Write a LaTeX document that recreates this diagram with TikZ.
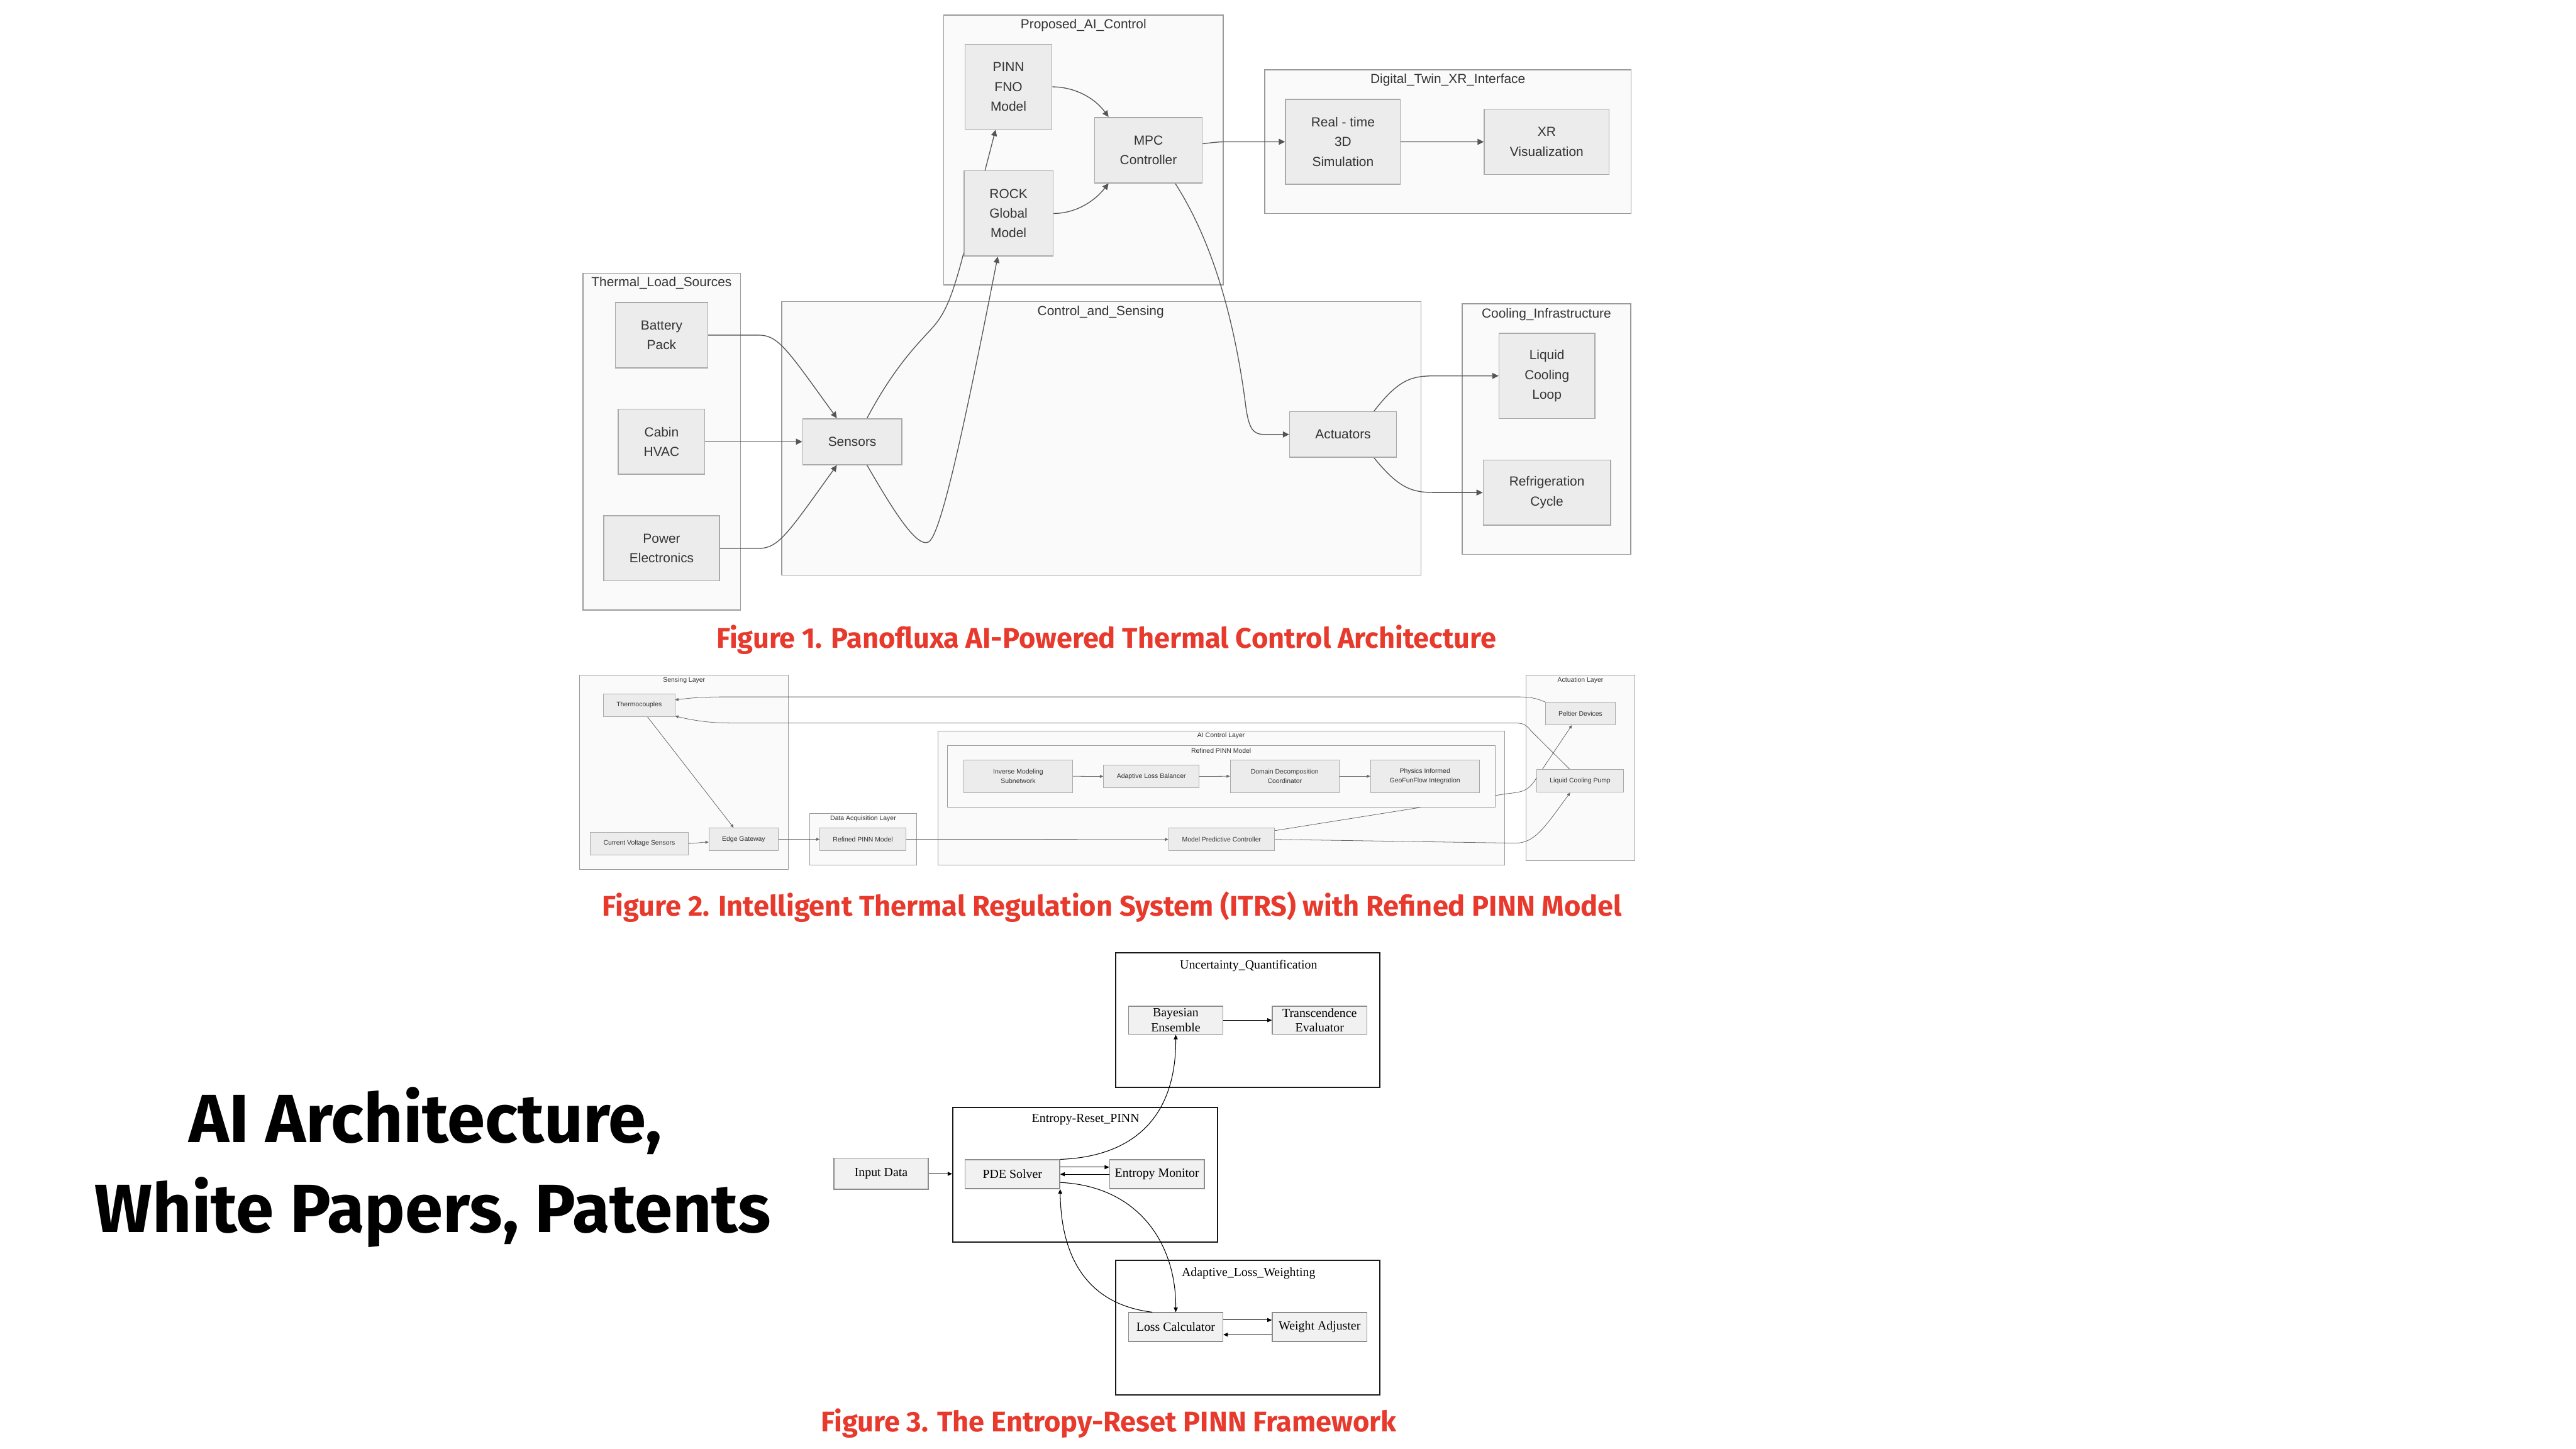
\documentclass[tikz,border=0pt]{standalone}
\usepackage{fontspec}
\usetikzlibrary{arrows.meta}
\newfontfamily\arialf{Liberation Sans}
\newfontfamily\timesf{Liberation Serif}
\newfontfamily\firaf{Fira Sans}
\definecolor{clufill}{HTML}{FAFAFA}
\definecolor{cluline}{HTML}{9A9A9A}
\definecolor{nodefill}{HTML}{ECECEC}
\definecolor{nodeline}{HTML}{A9A9A9}
\definecolor{edgecol}{HTML}{555555}
\definecolor{txtcol}{HTML}{333333}
\definecolor{capred}{HTML}{E8392D}
\definecolor{f3fill}{HTML}{F1F1F1}
\definecolor{f3line}{HTML}{8C8C8C}
\pgfdeclarelayer{bg}
\pgfdeclarelayer{edges}
\pgfdeclarelayer{mid}
\pgfsetlayers{bg,edges,mid,main}
\tikzset{
  clu1/.style={draw=cluline, fill=clufill, line width=0.6pt},
  lab1/.style={text=txtcol, inner sep=0pt, font=\arialf\fontsize{8}{12}\selectfont},
  n1/.style={draw=nodeline, fill=nodefill, line width=0.6pt, inner sep=0pt, align=center, text=txtcol, font=\arialf\fontsize{8}{12}\selectfont},
  e1/.style={draw=edgecol, line width=0.5pt, -{Triangle[length=3.8pt,width=3.6pt]}},
  lab2/.style={text=txtcol, inner sep=0pt, font=\arialf\fontsize{4}{6}\selectfont},
  n2/.style={draw=nodeline, fill=nodefill, line width=0.35pt, inner sep=0pt, align=center, text=txtcol, font=\arialf\fontsize{4}{6}\selectfont},
  e2/.style={draw=edgecol!90, line width=0.3pt, -{Triangle[length=2pt,width=1.8pt]}},
  clu3/.style={draw=black!90, fill=white, line width=0.8pt},
  lab3/.style={text=black, inner sep=0pt, font=\timesf\fontsize{7.6}{9.1}\selectfont},
  n3/.style={draw=f3line, fill=f3fill, line width=0.6pt, inner sep=0pt, align=center, text=black, font=\timesf\fontsize{7.6}{9.1}\selectfont},
  e3/.style={draw=black, line width=0.4pt, -{Triangle[length=2.8pt,width=2.4pt]}},
  capt/.style={text=capred, inner sep=0pt, font=\firaf\bfseries\fontsize{17.3}{20}\selectfont},
  ttl/.style={text=black, inner sep=0pt, font=\firaf\bfseries\fontsize{41.5}{48}\selectfont}
}
\begin{document}
\begin{tikzpicture}[x=1pt,y=-1pt]
\useasboundingbox (0,0) rectangle (1568,882);
\begin{pgfonlayer}{bg}
\fill[white] (0,0) rectangle (1568,882);
\end{pgfonlayer}

% ================= FIGURE 1 =================
\begin{pgfonlayer}{bg}
\draw[clu1] (354.8,166.4) rectangle (450.7,371.3);
\draw[clu1] (475.8,183.6) rectangle (865,350);
\draw[clu1] (574.4,9.3) rectangle (744.5,173.5);
\draw[clu1] (769.9,42.6) rectangle (992.8,130);
\draw[clu1] (890,185) rectangle (992.7,337.4);
\end{pgfonlayer}
\node[lab1] (tlsl) at (402.7,172.2) {Thermal\_Load\_Sources};
\node[lab1] (casl) at (670,190) {Control\_and\_Sensing};
\node[lab1] (pacl) at (659.5,15.3) {Proposed\_AI\_Control};
\node[lab1] (dtxl) at (881.3,48.7) {Digital\_Twin\_XR\_Interface};
\node[lab1] (cinl) at (941.3,191.3) {Cooling\_Infrastructure};

\node[n1, minimum width=56.2pt, minimum height=39.7pt] (bat) at (402.7,204) {Battery\\Pack};
\node[n1, minimum width=52.6pt, minimum height=39.7pt] (cab) at (402.7,268.85) {Cabin\\HVAC};
\node[n1, minimum width=70.3pt, minimum height=39.6pt] (pow) at (402.75,333.8) {Power\\Electronics};
\node[n1, minimum width=60.3pt, minimum height=28pt] (sen) at (518.75,268.85) {Sensors};
\node[n1, minimum width=65pt, minimum height=27.7pt] (act) at (817.5,264.45) {Actuators};
\node[n1, minimum width=58.2pt, minimum height=52pt] (lcl) at (941.6,228.8) {Liquid\\Cooling\\Loop};
\node[n1, minimum width=77.5pt, minimum height=39.6pt] (ref) at (941.55,299.8) {Refrigeration\\Cycle};
\node[n1, minimum width=52.9pt, minimum height=51.7pt] (pinn) at (613.85,52.85) {PINN\\FNO\\Model};
\node[n1, minimum width=54.2pt, minimum height=51.9pt] (rock) at (613.9,129.95) {ROCK\\Global\\Model};
\node[n1, minimum width=65.6pt, minimum height=39.8pt] (mpc) at (699,91.4) {MPC\\Controller};
\node[n1, minimum width=69.9pt, minimum height=51.8pt] (rts) at (817.45,86.3) {Real - time\\3D\\Simulation};
\node[n1, minimum width=75.9pt, minimum height=39.7pt] (xr) at (941.45,86.35) {XR\\Visualization};

\begin{pgfonlayer}{edges}
\draw[e1] (bat.east) -- (462,204) .. controls (474,204) and (480,214) .. ([xshift=-9.35pt]sen.north);
\draw[e1] (cab.east) -- (sen.west);
\draw[e1] (pow.east) -- (462,333.8) .. controls (474,333.8) and (480,324) .. ([xshift=-9.35pt]sen.south);
\draw[e1] ([xshift=9pt]sen.north) .. controls (545,222) and (560,208) .. (568,199) .. controls (576,190) and (580,178) .. (585,160) -- ([xshift=-7.85pt]pinn.south);
\draw[e1] ([xshift=9pt]sen.south) .. controls (545,313) and (558,333) .. (565,330) .. controls (572,327) and (585,270) .. ([xshift=-6.6pt]rock.south);
\draw[e1] (pinn.east) .. controls (652,52.85) and (665,58) .. ([xshift=-24.2pt]mpc.north);
\draw[e1] (rock.east) .. controls (653,130) and (665,124) .. ([xshift=-24.2pt]mpc.south);
\draw[e1] ([yshift=3.9pt]mpc.east) .. controls (742,86.3) .. (752,86.3) -- (rts.west);
\draw[e1] (rts.east) -- (xr.west);
\draw[e1] ([xshift=16.3pt]mpc.south) .. controls (740,150) and (752,200) .. (758,245) .. controls (760,262) and (763,264.45) .. (770,264.45) -- (act.west);
\draw[e1] ([xshift=18.8pt]act.north) .. controls (852,230) and (860,228.8) .. (874,228.8) -- (lcl.west);
\draw[e1] ([xshift=18.8pt]act.south) .. controls (852,298) and (860,299.8) .. (874,299.8) -- (ref.west);
\end{pgfonlayer}

\node[capt, anchor=base] (cap1) at (673.5,394.3) {Figure 1. Panofluxa AI-Powered Thermal Control Architecture};

% ================= FIGURE 2 =================
\begin{pgfonlayer}{bg}
\draw[clu1, line width=0.4pt] (352.8,411.1) rectangle (480,529.1);
\draw[clu1, line width=0.4pt] (492.7,495) rectangle (557.9,526.5);
\draw[clu1, line width=0.4pt] (570.8,444.9) rectangle (916,526.5);
\draw[clu1, line width=0.4pt] (929,411.1) rectangle (995,523.9);
\end{pgfonlayer}
\begin{pgfonlayer}{mid}
\draw[clu1, line width=0.4pt] (576.8,453.8) rectangle (910.1,491.4);
\end{pgfonlayer}
\node[lab2] (sll) at (416.4,414.2) {Sensing Layer};
\node[lab2] (daql) at (525.4,498.2) {Data Acquisition Layer};
\node[lab2] (aicl) at (743.3,447.9) {AI Control Layer};
\node[lab2] (rpml) at (743.3,456.8) {Refined PINN Model};
\node[lab2] (all) at (962,414.2) {Actuation Layer};

\node[n2, minimum width=43.5pt, minimum height=13.8pt] (th) at (389.05,429.2) {Thermocouples};
\node[n2, minimum width=59.8pt, minimum height=13.8pt] (cvs) at (389.1,513.4) {Current Voltage Sensors};
\node[n2, minimum width=42.3pt, minimum height=13.9pt] (eg) at (452.65,510.85) {Edge Gateway};
\node[n2, minimum width=52.5pt, minimum height=13.9pt] (drp) at (525.25,510.85) {Refined PINN Model};
\node[n2, minimum width=66.3pt, minimum height=20pt] (inv) at (619.75,472.5) {Inverse Modeling\\Subnetwork};
\node[n2, minimum width=58.2pt, minimum height=13.8pt] (alb) at (700.8,472.6) {Adaptive Loss Balancer};
\node[n2, minimum width=66.4pt, minimum height=20pt] (ddc) at (782,472.5) {Domain Decomposition\\Coordinator};
\node[n2, minimum width=66.3pt, minimum height=20pt] (pig) at (867.35,472.5) {Physics Informed\\GeoFunFlow Integration};
\node[n2, minimum width=64.5pt, minimum height=13.9pt] (mpc2) at (743.55,510.95) {Model Predictive Controller};
\node[n2, minimum width=42.5pt, minimum height=13.7pt] (pel) at (962,434.35) {Peltier Devices};
\node[n2, minimum width=52.7pt, minimum height=13.9pt] (pump) at (961.85,475.35) {Liquid Cooling Pump};

\draw[e2] (inv.east) -- (alb.west);
\draw[e2] (alb.east) -- (ddc.west);
\draw[e2] (ddc.east) -- (pig.west);

\begin{pgfonlayer}{edges}
\draw[e2] ([xshift=5pt]th.south) -- ([xshift=-6.15pt]eg.north);
\draw[e2] (cvs.east) .. controls (425,513.4) and (426,512.6) .. ([yshift=-1.8pt]eg.west);
\draw[e2] (eg.east) -- (drp.west);
\draw[e2] (drp.east) -- (mpc2.west);
\draw[e2] ([yshift=5.35pt]mpc2.east) -- (914,483.6) .. controls (924,482) and (928.5,483) .. (933.6,476) -- ([xshift=-5.2pt]pel.south);
\draw[e2] (mpc2.east) -- (922,513.2) .. controls (934,513.4) and (940,504) .. ([xshift=-6.15pt]pump.south);
\draw[e2] (pel.north west) .. controls (934,424.5) and (930,424.2) .. (924,424.2) -- (440,424.2) .. controls (425,424.2) and (418,425.2) .. ([yshift=3.2pt]th.east);
\draw[e2] ([xshift=-6.4pt]pump.north) -- (932,445) .. controls (929,441) and (927,440.1) .. (922,440.1) -- (445,440.1) .. controls (430,440.1) and (420,438) .. ([yshift=0.4pt]th.south east);
\end{pgfonlayer}

\node[capt, anchor=base] (cap2) at (677,557.7) {Figure 2. Intelligent Thermal Regulation System (ITRS) with Refined PINN Model};

% ================= FIGURE 3 =================
\node[clu3, minimum width=161pt, minimum height=82pt, inner sep=0pt] (uq) at (759.5,621) {};
\node[clu3, minimum width=161pt, minimum height=82pt, inner sep=0pt] (er) at (660.5,715) {};
\node[clu3, minimum width=161pt, minimum height=82pt, inner sep=0pt] (alw) at (759.5,808) {};
\node[lab3] (uql) at (760,587.9) {Uncertainty\_Quantification};
\node[lab3] (erl) at (660.8,681.6) {Entropy-Reset\_PINN};
\node[lab3] (alwl) at (760,775.1) {Adaptive\_Loss\_Weighting};

\node[n3, minimum width=57.3pt, minimum height=17pt] (bay) at (715.65,621) {Bayesian\\Ensemble};
\node[n3, minimum width=57.5pt, minimum height=17pt] (tr) at (803.25,621) {Transcendence\\Evaluator};
\node[n3, minimum width=57.5pt, minimum height=17.5pt] (pde) at (616.25,714.75) {PDE Solver};
\node[n3, minimum width=57.5pt, minimum height=17.5pt] (em) at (704.25,714.75) {Entropy Monitor};
\node[n3, minimum width=57.4pt, minimum height=19pt] (inp) at (536.3,714.5) {Input Data};
\node[n3, minimum width=57.3pt, minimum height=17.6pt] (loss) at (715.65,807.8) {Loss Calculator};
\node[n3, minimum width=57.5pt, minimum height=17.6pt] (wa) at (803.25,807.8) {Weight Adjuster};

\draw[e3] (inp.east) -- (inp.east -| er.west);
\draw[e3] ([yshift=4.3pt]pde.east) -- ([yshift=4.3pt]em.west);
\draw[e3] (em.west) -- (pde.east);
\draw[e3] (pde.north east) .. controls (690,704) and (716,680) .. (bay.south);
\draw[e3] ([yshift=-5pt]pde.east) .. controls (693,722) and (716,757) .. (loss.north);
\draw[e3] ([xshift=-14.25pt]loss.north) .. controls (670,795) and (646,775) .. (pde.south east);
\draw[e3] ([yshift=4.3pt]loss.east) -- ([yshift=4.3pt]wa.west);
\draw[e3] ([yshift=-4.6pt]wa.west) -- ([yshift=-4.6pt]loss.east);
\draw[e3] (bay.east) -- (tr.west);

\node[capt, anchor=base] (cap3) at (675,871.5) {Figure 3. The Entropy-Reset PINN Framework};

% ================= TITLE =================
\node[ttl, anchor=base] (t1) at (259,695.5) {AI Architecture,};
\node[ttl, anchor=base] (t2) at (263.5,750) {White Papers, Patents};
\end{tikzpicture}
\end{document}
